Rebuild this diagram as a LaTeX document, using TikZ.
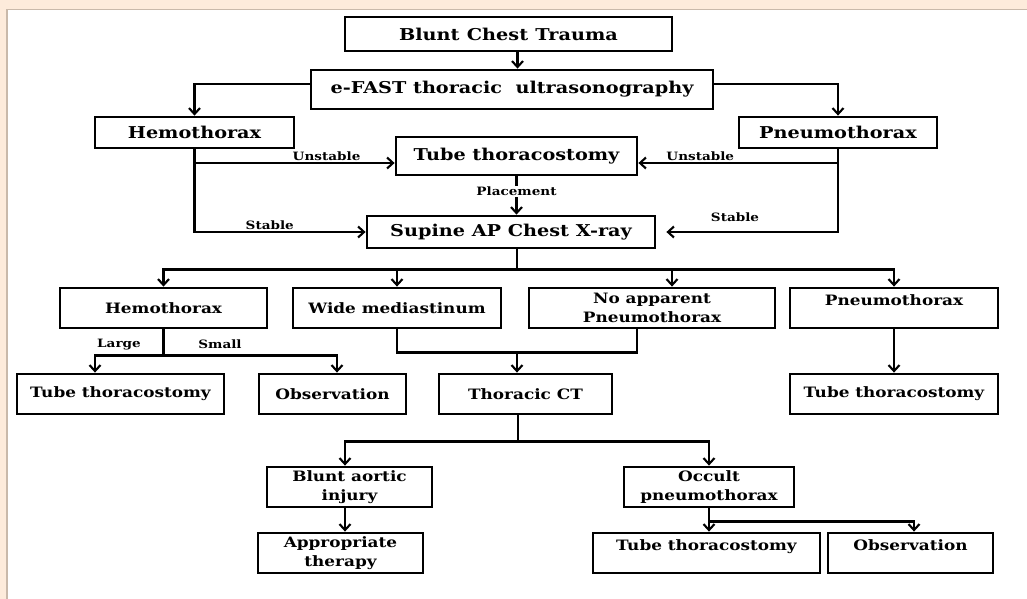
\documentclass[tikz,border=0pt]{standalone}
\usepackage{fontspec}
\setmainfont{DejaVu Serif}[FakeStretch=1.18]
\usetikzlibrary{arrows.meta,calc}
\definecolor{peach}{HTML}{FDEBDB}
\definecolor{panelborder}{HTML}{C9B9AA}
\begin{document}
\begin{tikzpicture}[x=1pt,y=-1pt,
  box/.style={draw=black, line width=2.8pt, inner sep=0pt, align=center,
    font=\bfseries\fontsize{14.3}{18.5}\selectfont},
  bigbox/.style={box, font=\bfseries\fontsize{16.3}{19}\selectfont},
  topbox/.style={box, text height=11pt, text depth=17pt},
  arr/.style={line width=2.5pt, -{Straight Barb[length=6pt,width=11pt,line width=2.1pt]}},
  ln/.style={line width=2.5pt},
  lab/.style={font=\bfseries\fontsize{11.5}{13}\selectfont, inner sep=1pt}]
\useasboundingbox (0,0) rectangle (1027,599);
\fill[peach] (0,0) rectangle (1027,599);
\fill[white] (7,10) rectangle (1027,599);
\draw[panelborder, line width=1.5pt] (6.75,599) -- (6.75,9.75) -- (1027,9.75);
% top level
\node[bigbox, minimum width=327pt, minimum height=34pt] (bct) at (508.5,34) {Blunt\hspace{0.45em}Chest\hspace{0.45em}Trauma};
\node[bigbox, minimum width=402pt, minimum height=39pt] (efast) at (512,89.5) {e-FAST thoracic\ \ ultrasonography};
\node[bigbox, minimum width=199pt, minimum height=31pt] (hemoA) at (194.5,132.5) {Hemothorax};
\node[bigbox, minimum width=198pt, minimum height=31pt] (pneuA) at (838,132.5) {Pneumothorax};
\node[bigbox, minimum width=241pt, minimum height=38pt] (tubeA) at (516.5,156) {Tube thoracostomy};
\node[bigbox, minimum width=288pt, minimum height=32pt] (supine) at (511,232) {Supine AP Chest X-ray};
% second row
\node[box, minimum width=207pt, minimum height=40pt] (hemoB) at (163.5,308) {Hemothorax};
\node[box, minimum width=208pt, minimum height=40pt] (wide) at (397,308) {Wide mediastinum};
\node[box, minimum width=246pt, minimum height=40pt] (noapp) at (652,308) {No apparent\\Pneumothorax};
\node[box, topbox, minimum width=208pt, minimum height=40pt] (pneuB) at (894,308) {Pneumothorax};
% third row
\node[box, minimum width=207pt, minimum height=40pt] (tubeL) at (120.5,394) {Tube thoracostomy};
\node[box, minimum width=147pt, minimum height=40pt] (obsL) at (332.5,394) {Observation};
\node[box, minimum width=173pt, minimum height=40pt] (ct) at (525.5,394) {Thoracic CT};
\node[box, minimum width=208pt, minimum height=40pt] (tubeR) at (894,394) {Tube thoracostomy};
% bottom rows
\node[box, minimum width=165pt, minimum height=40pt] (bai) at (349.5,487) {Blunt aortic\\injury};
\node[box, minimum width=165pt, minimum height=40pt] (apt) at (340.5,553) {Appropriate\\therapy};
\node[box, minimum width=170pt, minimum height=40pt] (occ) at (709,487) {Occult\\pneumothorax};
\node[box, topbox, minimum width=227pt, minimum height=40pt] (tubeBR) at (706.5,553) {Tube thoracostomy};
\node[box, topbox, minimum width=165pt, minimum height=40pt] (obsBR) at (910.5,553) {Observation};
% connectors top
\coordinate (bctS) at ($(bct.south)+(9,0)$);
\draw[arr] (bctS) -- (bctS |- efast.north);
\draw[arr] ($(efast.west)+(0,-5.5)$) -| (hemoA.north);
\draw[arr] ($(efast.east)+(0,-5.5)$) -| (pneuA.north);
\coordinate (uL) at ($(tubeA.west)+(0,7)$);
\coordinate (uR) at ($(tubeA.east)+(0,7)$);
\draw[arr] (hemoA.south |- uL) -- node[lab, above, pos=0.66] {Unstable} (uL);
\draw[arr] (pneuA.south |- uR) -- node[lab, above, pos=0.69] {Unstable} (uR);
\draw[arr] (hemoA.south) |- node[lab, above, pos=0.72] {Stable} (supine.west);
\coordinate (sR) at ($(supine.east)+(10,0)$);
\draw[arr] (pneuA.south) |- node[lab, above=8pt, pos=0.8] {Stable} (sR);
\draw[arr] (tubeA.south) -- node[lab, fill=white, pos=0.4] {Placement} (tubeA.south |- supine.north);
% supine bus
\coordinate (sp) at ($(supine.south)+(6,0)$);
\coordinate (busA) at ($(sp)+(0,20)$);
\draw[ln] (sp) -- (busA);
\draw[arr] (busA) -| (hemoB.north);
\draw[arr] (busA) -| (wide.north);
\draw[arr] (busA) -| ($(noapp.north)+(20,0)$);
\draw[arr] (busA) -| (pneuB.north);
% hemothorax split
\coordinate (hb) at ($(hemoB.south)+(0,26)$);
\draw[ln] (hemoB.south) -- (hb);
\draw[arr] (hb) -| ($(tubeL.north)+(-25.5,0)$);
\draw[arr] (hb) -| ($(obsL.north)+(4.5,0)$);
\node[lab] (large) at ($(hb)+(-44.5,-11)$) {Large};
\node[lab] (small) at ($(hb)+(56.5,-11)$) {Small};
% to CT
\coordinate (cj) at ($(ct.north)+(-8.5,-20)$);
\draw[ln] (wide.south) |- (cj);
\draw[ln] ($(noapp.south)+(-15,0)$) |- (cj);
\draw[arr] (cj) -- (cj |- ct.north);
\draw[arr] (pneuB.south) -- (tubeR.north);
% CT split
\coordinate (ctS) at ($(ct.south)+(-7.5,0)$);
\coordinate (ctb) at ($(ctS)+(0,26)$);
\draw[ln] (ctS) -- (ctb);
\draw[arr] (ctb) -| ($(bai.north)+(-4.5,0)$);
\draw[arr] (ctb) -| (occ.north);
\coordinate (baiS) at ($(bai.south)+(-4.5,0)$);
\draw[arr] (baiS) -- (baiS |- apt.north);
% occult split
\coordinate (ob) at ($(occ.south)+(0,13)$);
\draw[arr] (occ.south) -- (occ.south |- tubeBR.north);
\draw[arr] (ob) -| ($(obsBR.north)+(3.5,0)$);
\end{tikzpicture}
\end{document}
